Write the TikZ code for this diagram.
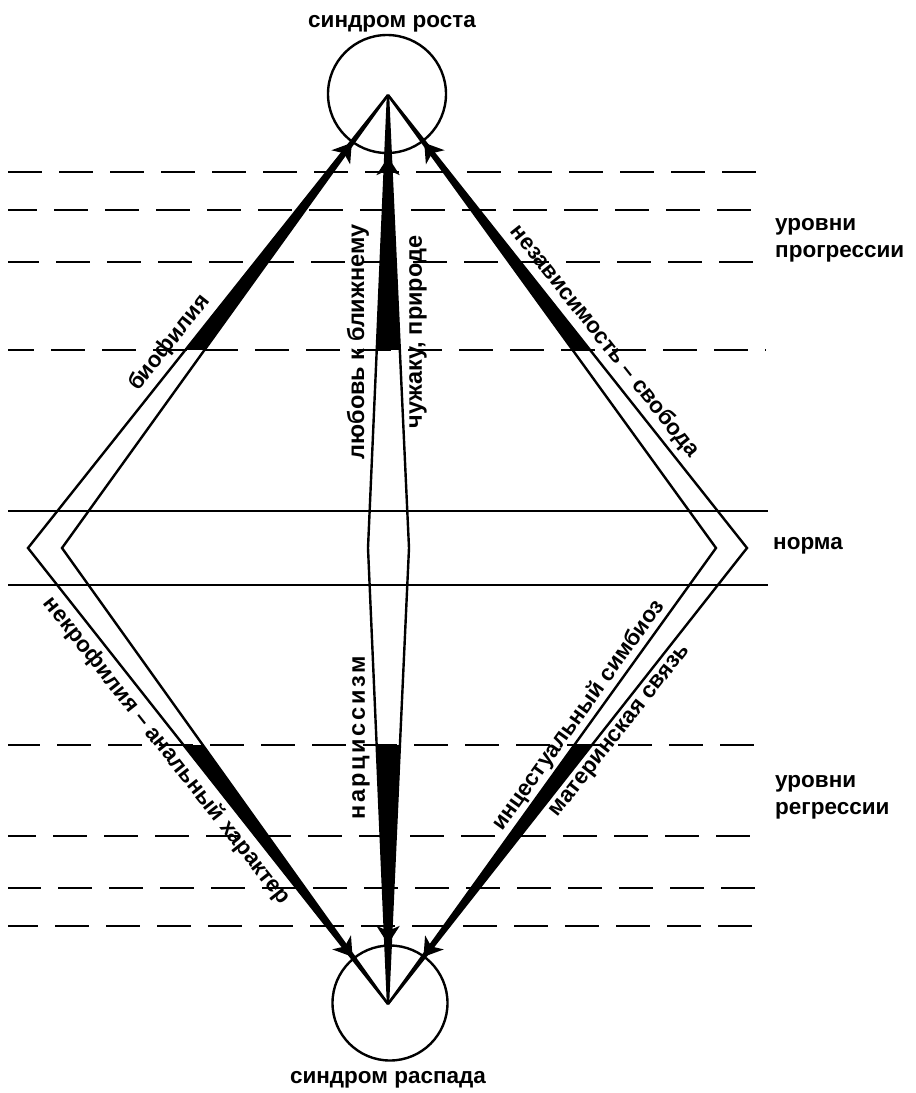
\documentclass[tikz,border=0pt]{standalone}
\usepackage{fontspec}
\setmainfont{Liberation Sans}
\usetikzlibrary{calc,arrows.meta}
\begin{document}
\begin{tikzpicture}[x=1pt,y=-1pt,
  band/.style={line width=2.4pt, line join=miter},
  lvl/.style={line width=2pt},
  dashlvl/.style={line width=2.2pt, dash pattern=on 34pt off 17pt},
  lab/.style={font=\fontsize{22.5}{27}\selectfont\bfseries, inner sep=0pt},
  vlab/.style={font=\fontsize{23.5}{27}\selectfont\bfseries, inner sep=0pt, rotate=90},
  wedgefill/.style={fill=black},
  arr/.style={line width=3pt, -{Stealth[length=18pt,width=23pt,inset=5pt]}},
  syn/.style={circle, draw, line width=2.4pt, inner sep=0pt}]
\useasboundingbox (0,0) rectangle (916,1093);
\fill[white] (0,0) rectangle (916,1093);

% apexes and band vertices
\coordinate (T) at (388,95);
\coordinate (B) at (388,1004);
\coordinate (OL) at (28,548);
\coordinate (IL) at (62,548);
\coordinate (OR) at (747,548);
\coordinate (IR) at (716,548);
\coordinate (CL) at (368,548);
\coordinate (CR) at (409,548);
\coordinate (ML) at ($(OL)!0.5!(IL)$);
\coordinate (MR) at ($(OR)!0.5!(IR)$);
\coordinate (MC) at ($(CL)!0.5!(CR)$);

% level lines
\foreach \yy/\ph in {172/0,210/5,262/3,350/8,745/2,836/6,888/1,926/4}
  \draw[dashlvl, dash phase=\ph pt] (8,\yy) -- (766,\yy);
\draw[lvl] (8,511) -- (768,511);
\draw[lvl] (8,585) -- (768,585);

% syndrome circles
\node[syn, minimum size=118pt] (top) at (387,94) {};
\node[syn, minimum size=115pt] (bot) at (390,1003) {};

% bands
\draw[band] (T) -- (OL) -- (B);
\draw[band] (T) -- (IL) -- (B);
\draw[band] (T) -- (OR) -- (B);
\draw[band] (T) -- (IR) -- (B);
\draw[band] (T) -- (CL) -- (B);
\draw[band] (T) -- (CR) -- (B);

% black wedges
\fill[wedgefill] (T) -- ($(T)!0.5629!(OL)$) -- ($(T)!0.5629!(IL)$) -- cycle;
\fill[wedgefill] (T) -- ($(T)!0.5629!(CL)$) -- ($(T)!0.5629!(CR)$) -- cycle;
\fill[wedgefill] (T) -- ($(T)!0.5629!(OR)$) -- ($(T)!0.5629!(IR)$) -- cycle;
\fill[wedgefill] (B) -- ($(B)!0.568!(OL)$) -- ($(B)!0.568!(IL)$) -- cycle;
\fill[wedgefill] (B) -- ($(B)!0.568!(CL)$) -- ($(B)!0.568!(CR)$) -- cycle;
\fill[wedgefill] (B) -- ($(B)!0.568!(OR)$) -- ($(B)!0.568!(IR)$) -- cycle;

% arrowheads into the circles
\draw[arr] ($(T)!140pt!(ML)$) -- ($(T)!60pt!(ML)$);
\draw[arr] ($(T)!140pt!(MC)$) -- ($(T)!62pt!(MC)$);
\draw[arr] ($(T)!140pt!(MR)$) -- ($(T)!60pt!(MR)$);
\draw[arr] ($(B)!140pt!(ML)$) -- ($(B)!59pt!(ML)$);
\draw[arr] ($(B)!140pt!(MC)$) -- ($(B)!60pt!(MC)$);
\draw[arr] ($(B)!140pt!(MR)$) -- ($(B)!59pt!(MR)$);

% labels
\node[lab, anchor=base] (grow) at (392,27) {синдром роста};
\node[lab, anchor=base] (decay) at (388,1083) {синдром распада};
\node[lab, anchor=west, align=left] (prog) at (775,240) {уровни\\прогрессии};
\node[lab, anchor=west] (norm) at (773,546) {норма};
\node[lab, anchor=west, align=left] (regr) at (775,797) {уровни\\регрессии};

\path (OL) -- (T) node[lab, sloped, pos=0.43, above=6pt] (bio) {биофилия};
\path (T) -- (OR) node[lab, sloped, pos=0.567, above=6pt] (indep) {независимость – свобода};
\path (OL) -- (B) node[lab, sloped, pos=0.422, below=6pt] (necro) {некрофилия – анальный характер};
\path (B) -- (IR) node[lab, sloped, pos=0.615, above=3pt] (inc1) {инцестуальный симбиоз};
\path (B) -- (OR) node[lab, sloped, pos=0.617, below=6pt] (inc2) {материнская связь};

\node[vlab] (love1) at (358,342) {любовь к ближнему};
\node[vlab] (love2) at (418,332) {чужаку, природе};
\node[vlab, font=\fontsize{23.5}{27}\selectfont\bfseries\addfontfeature{LetterSpace=11}] (narc) at (361,738) {нарциссизм};
\end{tikzpicture}
\end{document}
